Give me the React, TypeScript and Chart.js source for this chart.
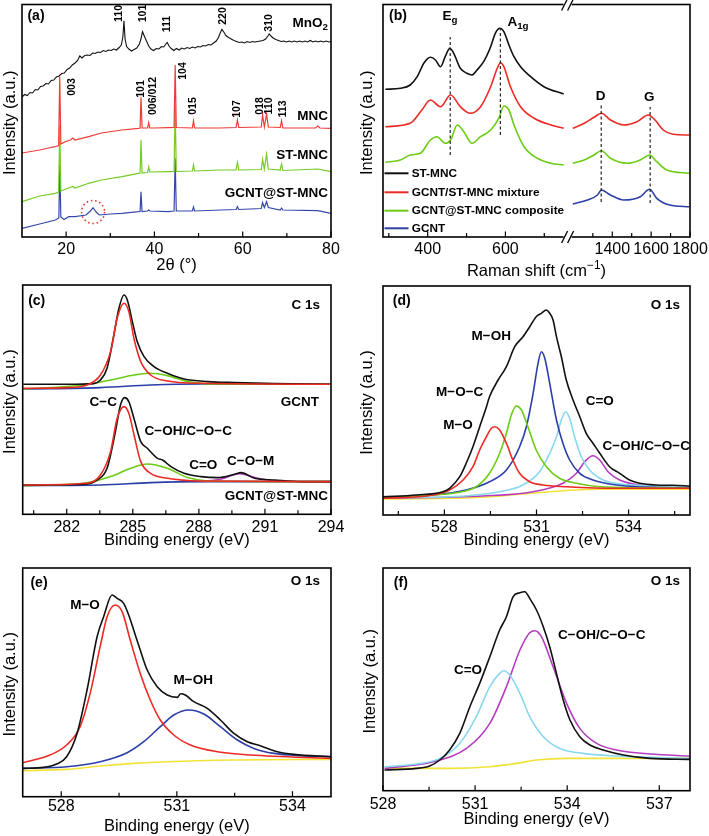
import React, { useEffect, useRef } from 'react';
import { Chart, registerables } from 'chart.js';

Chart.register(...registerables);

type Pt = [number, number];

// ================= (a) XRD : 2θ (°) vs intensity (a.u.) =================
const xrdTickValues = [20, 30, 40, 50, 60, 70, 80];
const xrdTickLabels = ['20', '', '40', '', '60', '', '80'];
const xrdMnO2: Pt[] = [
  [10, 140], [10.6, 142.5], [11.2, 141.5], [11.8, 144.5], [12.4, 144], [13, 147.5], [13.6, 147], [14.2, 150.5],
  [14.8, 151], [15.4, 153.5], [16, 153], [16.6, 156.5], [17.2, 157], [17.8, 160], [18.4, 161], [19, 163.5],
  [19.6, 164], [20.2, 167.5], [20.8, 169], [21.4, 172], [22, 174], [22.6, 176.5], [23.1, 181], [23.6, 179],
  [24.2, 181.5], [24.8, 182], [25.4, 181.5], [26, 184], [26.6, 183.5], [27.2, 185], [27.8, 184.5], [28.4, 186.5],
  [29, 185.5], [29.6, 187], [30.2, 186.5], [30.8, 188], [31.4, 187], [32, 189.5], [32.5, 192], [32.85, 200],
  [33.1, 216.3], [33.35, 198], [33.7, 190.5], [34.2, 188], [34.8, 186], [35.4, 187.5], [36, 189], [36.6, 193],
  [37.0, 199], [37.3, 205.3], [37.7, 201], [38.2, 196], [38.7, 191], [39.2, 188], [39.8, 186.5], [40.4, 188.5],
  [41, 188], [41.6, 190.5], [42.1, 190], [42.6, 193], [42.9, 194.5], [43.3, 191], [43.8, 188.5], [44.4, 186.5],
  [45, 188.5], [45.6, 187], [46.2, 189], [46.8, 188], [47.4, 189.5], [48, 188.5], [48.6, 190], [49.2, 189],
  [49.8, 190.5], [50.4, 190], [51, 191.5], [51.6, 191], [52.2, 192.5], [52.8, 192], [53.4, 194], [54, 196],
  [54.5, 199.5], [54.9, 204], [55.3, 207.7], [55.7, 205], [56.2, 201.5], [56.8, 199.5], [57.4, 198], [58, 196.5],
  [58.6, 195.5], [59.2, 194.5], [59.8, 195], [60.4, 194], [61, 195.5], [61.6, 194.5], [62.2, 195.5], [62.8, 195],
  [63.4, 195.5], [64, 196], [64.6, 196.5], [65.2, 198], [65.7, 201], [66, 203], [66.4, 201], [66.9, 199],
  [67.5, 197.5], [68.1, 196.5], [68.7, 195.5], [69.3, 196], [69.9, 195], [70.5, 196], [71.1, 195], [71.7, 196],
  [72.3, 195], [72.9, 196], [73.5, 195], [74.1, 196], [74.7, 195], [75.3, 196.5], [75.9, 195], [76.5, 196],
  [77.1, 195], [77.7, 196], [78.3, 195], [78.9, 196], [79.5, 195], [80, 195.5],
];
const xrdMNC: Pt[] = [
  [10, 84], [12, 85.5], [14, 87], [16, 89], [17.5, 90.3], [18.3, 91.5], [18.55, 160.3], [18.8, 93],
  [19.8, 95.3], [21, 97], [21.5, 99], [22, 97], [25.1, 100.3], [28, 104], [32.65, 107], [36.4, 108.7],
  [36.75, 109], [36.96, 139.7], [37.2, 109], [38.45, 109], [38.7, 114.3], [38.95, 109], [40, 109], [43.2, 109.3],
  [44.45, 109.5], [44.7, 172], [44.95, 109.5], [48.6, 109], [48.85, 116.3], [49.1, 109], [55, 109], [58.5, 109.5],
  [58.8, 117], [59.1, 109.5], [64.2, 110], [64.5, 122], [64.9, 110], [65.4, 123], [65.8, 110], [68.5, 109.5],
  [68.8, 116.3], [69.1, 109], [76.5, 109], [77, 111], [77.5, 109], [80, 108.7],
];
const xrdSTMNC: Pt[] = [
  [10, 35.3], [14, 41], [17.55, 43.7], [18.3, 45], [18.55, 112], [18.8, 46], [20, 48], [21.5, 50.5],
  [22, 49], [25.1, 53.7], [28, 57], [32.65, 60.3], [36.4, 63.7], [36.75, 64], [36.96, 97], [37.2, 64],
  [38.45, 64.5], [38.7, 70.3], [38.95, 65], [43.2, 65.3], [44.45, 65.5], [44.7, 132], [44.95, 65.5], [48.6, 66],
  [48.85, 72], [49.1, 66], [55, 67], [58.5, 67], [58.8, 74.7], [59.1, 67], [64.2, 67.5], [64.5, 77.7],
  [64.9, 68], [65.4, 82.7], [65.8, 68], [68.5, 67], [68.8, 73], [69.1, 66.5], [77, 68], [80, 65.3],
];
const xrdGCNTSTMNC: Pt[] = [
  [10, 8.7], [14, 13], [17.55, 17], [18.35, 19], [18.55, 72], [18.8, 20], [19.5, 17.5], [20.6, 20.3],
  [22, 20.3], [24.5, 22], [25.5, 26], [26.1, 29.3], [26.8, 25], [27.5, 22], [30, 23], [32.65, 23.7],
  [36.4, 25.3], [36.75, 25.5], [36.96, 45.3], [37.2, 25.5], [38.45, 26], [38.7, 27], [38.95, 26], [43.2, 25.3],
  [44.45, 26], [44.7, 78.7], [44.95, 26], [48.6, 26], [48.85, 30], [49.1, 26], [55, 27], [58.5, 27.5],
  [58.8, 30.3], [59.1, 27.5], [64.2, 28.5], [64.5, 34.3], [64.9, 29.5], [65.4, 35.3], [65.8, 29.5], [68.5, 27],
  [68.8, 29], [69.1, 27], [77, 26.3], [80, 23.7],
];

// ================= (b) Raman : shift (cm-1) vs intensity =================
const ramanTickValues = [300, 400, 500, 600, 700, 1300, 1400, 1500, 1600, 1700, 1800];
const ramanTickLabels = ['', '400', '', '600', '', '', '1400', '', '1600', '', '1800'];
const ramanSTMNC: Pt[] = [
  [291, 147.7], [330, 148.7], [355, 152], [373, 160.3], [390, 173.7], [407, 179.7], [420, 177], [433, 170.3],
  [445, 180.3], [457, 188.7], [467, 183.7], [484, 168.7], [501, 163.7], [514, 162], [527, 167], [544, 175.3],
  [562, 190.3], [574, 203.7], [586, 208.7], [596, 205.3], [609, 192], [622, 180.3], [639, 170.3], [665, 160.3],
  [699, 150.3], [750, 143],
];
const ramanMixtureLow: Pt[] = [
  [291, 110.3], [355, 113.7], [385, 127], [407, 137], [433, 130.3], [459, 142], [484, 130.3], [510, 123.7],
  [536, 130.3], [562, 150.3], [579, 168.7], [587, 174.3], [596, 170.3], [613, 150.3], [639, 130.3], [674, 118.7],
  [717, 112], [750, 108.7],
];
const ramanMixtureHigh: Pt[] = [
  [1197, 108.7], [1256, 113.7], [1306, 119.7], [1344, 123.7], [1391, 117], [1459, 112], [1527, 115.3],
  [1586, 122], [1620, 117], [1662, 107], [1713, 102.7], [1796, 102],
];
const ramanCompositeLow: Pt[] = [
  [291, 74.7], [330, 77], [355, 82], [381, 83.7], [407, 97], [424, 100.3], [445, 93.7], [459, 97],
  [476, 112], [493, 105.3], [514, 93.7], [536, 100.3], [562, 107], [583, 118.7], [596, 131], [609, 127],
  [622, 112], [648, 90.3], [682, 78.7], [717, 73.7], [750, 72],
];
const ramanCompositeHigh: Pt[] = [
  [1197, 73.7], [1256, 77], [1306, 82], [1344, 86.3], [1391, 78.7], [1476, 73.7], [1544, 77], [1592, 82],
  [1629, 75.3], [1680, 67], [1796, 63.7],
];
const ramanGCNT: Pt[] = [
  [1197, 33], [1273, 37], [1324, 42], [1344, 47], [1391, 42], [1459, 37], [1544, 40.3], [1592, 47.7],
  [1629, 38.7], [1696, 32], [1796, 30.3],
];
const ramanEgLine: Pt[] = [[458, 82], [458, 200]];
const ramanA1gLine: Pt[] = [[587, 102], [587, 209]];
const ramanDLine: Pt[] = [[1343, 35], [1343, 134]];
const ramanGLine: Pt[] = [[1595, 34], [1595, 130]];

// ================= (c) C 1s =================
const c1sTickValues = [280.5, 282, 283.5, 285, 286.5, 288, 289.5, 291, 292.5, 294];
const c1sTickLabels = ['', '282', '', '285', '', '288', '', '291', '', '294'];
const c1sGCNTRaw: Pt[] = [
  [280.03, 130], [282.01, 130], [283.23, 130.7], [283.53, 134.3], [283.83, 146], [284.14, 179.3], [284.37, 206],
  [284.6, 219.3], [284.75, 214.3], [284.98, 192.7], [285.2, 172.7], [285.51, 157.7], [285.96, 147.7],
  [286.57, 141], [287.33, 135.3], [288.4, 132.7], [289.62, 131.7], [291.44, 130.7], [294, 130],
];
const c1sGCNTCC: Pt[] = [
  [280.03, 126], [282.01, 126.7], [282.92, 129.3], [283.53, 139.3], [283.99, 162.7], [284.29, 196], [284.6, 211],
  [284.82, 202.7], [285.05, 176], [285.36, 152.7], [285.81, 139.3], [286.57, 133.3], [288.1, 131], [294, 130],
];
const c1sGCNTCOH: Pt[] = [
  [280.03, 125.3], [282.77, 129.3], [283.99, 134.3], [285.05, 139.3], [285.74, 141], [286.57, 138.7],
  [287.49, 132.7], [288.86, 130.3], [294, 130],
];
const c1sGCNTBg: Pt[] = [[280.03, 125.3], [283.53, 126.7], [285.81, 129.3], [288.1, 130.3], [294, 130]];
const c1sCompRaw: Pt[] = [
  [280.03, 29.3], [282.77, 30], [283.38, 34.3], [283.83, 46], [284.21, 82.7], [284.44, 109.3], [284.63, 116.7],
  [284.82, 112.7], [285.05, 96], [285.36, 72.7], [285.66, 66], [286.12, 56], [286.35, 54.3], [286.73, 47.7],
  [287.33, 41], [288.1, 37.7], [288.86, 36.7], [289.62, 40], [289.92, 41.7], [290.53, 36], [291.44, 34.3],
  [292.66, 32.7], [294, 32.7],
];
const c1sCompCC: Pt[] = [
  [280.03, 29.3], [282.92, 31], [283.53, 39.3], [283.99, 62.7], [284.29, 96], [284.6, 107.7], [284.82, 101],
  [285.05, 80], [285.36, 52.7], [285.81, 41], [286.57, 36], [288.1, 33.3], [294, 32.7],
];
const c1sCompCOH: Pt[] = [
  [280.03, 28.7], [282.77, 31], [283.99, 37.7], [284.9, 46], [285.66, 50.3], [286.57, 46], [287.49, 36.7],
  [288.4, 33.3], [294, 32.7],
];
const c1sCompCOM: Pt[] = [[288.1, 32.7], [289.01, 35.3], [289.85, 40.7], [290.68, 36], [291.6, 32.7]];
const c1sCompBg: Pt[] = [[280.03, 28.7], [283.53, 29.3], [285.81, 31.7], [288.1, 32.7], [294, 32.7]];

// ================= (d) O 1s (composite) =================
const o1sDTickValues = [526.5, 528, 529.5, 531, 532.5, 534, 535.5];
const o1sDTickLabels = ['', '528', '', '531', '', '534', ''];
const o1sDRaw: Pt[] = [
  [526.0, 18.3], [527.09, 20], [527.95, 23.3], [528.17, 26.7], [528.5, 38.3], [528.71, 51.7], [528.93, 68.3],
  [529.15, 88.3], [529.37, 108.3], [529.47, 118.3], [529.75, 135], [530.02, 148.3], [530.29, 168.3],
  [530.56, 178.3], [530.78, 188.3], [530.99, 198.3], [531.16, 201.7], [531.32, 205], [531.43, 201.7],
  [531.54, 195], [531.65, 178.3], [531.81, 158.3], [531.97, 135], [532.19, 115], [532.41, 98.3], [532.62, 81.7],
  [532.84, 71.7], [533.06, 61.7], [533.38, 48.3], [533.71, 41.7], [534.03, 35], [534.36, 31.7], [534.9, 30],
  [535.45, 29.7], [536.0, 29],
];
const o1sDMO: Pt[] = [
  [526.0, 16.7], [527.63, 20], [528.17, 25], [528.61, 35], [528.93, 48.3], [529.15, 65], [529.37, 78.3],
  [529.53, 86.7], [529.64, 88.3], [529.8, 85], [530.02, 71.7], [530.23, 55], [530.45, 41.7], [530.78, 33.3],
  [531.21, 30], [531.97, 28.3], [533.6, 26.7], [536.0, 26.7],
];
const o1sDMOC: Pt[] = [
  [526.0, 16.7], [527.63, 20], [528.39, 22.3], [529.04, 28.3], [529.47, 41.7], [529.8, 61.7], [530.02, 81.7],
  [530.18, 100], [530.34, 109], [530.51, 105], [530.72, 88.3], [530.99, 65], [531.32, 48.3], [531.75, 36.7],
  [532.3, 31.7], [533.06, 28.3], [536.0, 26.7],
];
const o1sDMOH: Pt[] = [
  [526.0, 17.7], [527.63, 20], [528.71, 25], [529.47, 33.3], [530.02, 45], [530.45, 68.3], [530.67, 88.3],
  [530.89, 121.7], [531.05, 151.7], [531.16, 163.3], [531.27, 156.7], [531.43, 131.7], [531.65, 95],
  [531.86, 71.7], [532.08, 55], [532.41, 41.7], [532.84, 35], [533.6, 30], [536.0, 26.7],
];
const o1sDCO: Pt[] = [
  [526.0, 17.3], [528.17, 18.3], [529.8, 23.3], [530.56, 30], [531.1, 43.3], [531.43, 61.7], [531.65, 78.3],
  [531.81, 95], [531.95, 103.3], [532.08, 96.7], [532.24, 78.3], [532.46, 58.3], [532.73, 45], [533.17, 35],
  [533.82, 30.7], [536.0, 28.3],
];
const o1sDCOH: Pt[] = [
  [526.0, 16.7], [529.26, 19], [530.89, 23.3], [531.86, 31.7], [532.3, 41.7], [532.57, 53.3], [532.84, 59.3],
  [533.06, 55], [533.33, 43.3], [533.71, 35], [534.36, 30], [536.0, 27.7],
];
const o1sDBg: Pt[] = [[526.0, 16], [529.26, 17.7], [531.43, 23.3], [533.06, 25.7], [536.0, 25.7]];

// ================= (e) O 1s =================
const o1sETickValues = [528, 529.5, 531, 532.5, 534];
const o1sETickLabels = ['528', '', '531', '', '534'];
const o1sERaw: Pt[] = [
  [527.0, 28.3], [527.54, 29.3], [527.88, 32.7], [528.14, 40], [528.41, 63.3], [528.67, 106.7], [528.93, 160],
  [529.1, 180], [529.32, 201.7], [529.45, 198.3], [529.62, 193.3], [529.75, 181.7], [529.88, 166.7],
  [530.05, 146.7], [530.23, 126.7], [530.49, 110], [530.75, 101.7], [531.01, 99.3], [531.1, 103], [531.22, 101.7],
  [531.44, 95], [531.79, 88.3], [532.13, 76.7], [532.48, 63.3], [532.83, 55], [533.18, 50.7], [533.61, 45],
  [534.04, 42.3], [535.0, 40],
];
const o1sEMO: Pt[] = [
  [527.0, 34], [527.71, 41.7], [528.14, 51.7], [528.49, 70], [528.75, 103.3], [529.01, 150], [529.19, 180],
  [529.4, 191.7], [529.58, 185], [529.79, 156.7], [530.05, 123.3], [530.31, 96.7], [530.57, 76.7],
  [530.92, 61.7], [531.35, 51.7], [532.05, 45], [532.92, 41.7], [535.0, 38.3],
];
const o1sEMOH: Pt[] = [
  [527.0, 28.3], [528.14, 30], [529.01, 35], [529.71, 44], [530.14, 55], [530.57, 70], [530.92, 81.7],
  [531.31, 86.7], [531.7, 82.7], [532.13, 70], [532.57, 56.7], [533.0, 48.3], [533.52, 43.3], [534.22, 41],
  [535.0, 40],
];
const o1sEBg: Pt[] = [[527.0, 26], [528.14, 27.3], [529.01, 30.7], [529.88, 33.3], [530.75, 35], [532.48, 36.7], [535.0, 37.3]];

// ================= (f) O 1s =================
const o1sFTickValues = [528, 529.5, 531, 532.5, 534, 535.5, 537];
const o1sFTickLabels = ['528', '', '531', '', '534', '', '537'];
const o1sFRaw: Pt[] = [
  [528.05, 20.7], [529.09, 22.3], [529.52, 24.7], [529.85, 30.7], [530.17, 40.7], [530.5, 57.3], [530.83, 84],
  [531.15, 107.3], [531.48, 134], [531.8, 160.7], [532.02, 174], [532.24, 194], [532.46, 198], [532.62, 199],
  [532.78, 192.3], [533.0, 180.7], [533.22, 164], [533.43, 144], [533.65, 117.3], [533.87, 90.7], [534.09, 70.7],
  [534.41, 54], [534.74, 45.7], [535.17, 40.7], [535.83, 35.7], [536.7, 32.3], [538.0, 31.3],
];
const o1sFCO: Pt[] = [
  [528.05, 24], [529.09, 26.7], [529.85, 32.3], [530.5, 47.3], [531.04, 74], [531.48, 104], [531.8, 117.3],
  [531.93, 120], [532.13, 115.7], [532.46, 97.3], [532.78, 74], [533.22, 54], [533.76, 42.3], [534.52, 37.3],
  [535.61, 34.7], [538.0, 32.3],
];
const o1sFCOH: Pt[] = [
  [528.05, 22.3], [529.63, 29], [530.72, 42.3], [531.48, 67.3], [532.02, 104], [532.46, 140.7], [532.78, 158],
  [532.95, 160], [533.16, 154], [533.54, 124], [533.98, 87.3], [534.41, 62.3], [534.96, 47.3], [535.61, 40.7],
  [536.7, 36.7], [538.0, 34.7],
];
const o1sFBg: Pt[] = [[528.05, 22.3], [530.17, 22.3], [531.48, 24], [532.35, 27.3], [533.0, 30.7], [533.98, 32.3], [538.0, 32.3]];

// ================= styling =================
const FONT = "'Liberation Sans', Arial, Helvetica, sans-serif";
const C = {
  black: '#111111',
  red: '#ec2a24',
  green: '#6ccc14',
  blue: '#2b3fa8',
  cyan: '#88d8ef',
  purple: '#b53dbf',
  yellow: '#f2e338',
};

type Part = [string, ('sub' | 'sup')?];
type Txt = { p: string | Part[]; x: number; y: number; s?: number; b?: boolean; a?: 'left' | 'center' | 'right'; r?: boolean };
type Series = { data: Pt[]; color: string; width: number; smooth?: boolean; dash?: number[] };
type PanelCfg = {
  left: number; top: number; width: number; height: number;
  area: [number, number, number, number];
  xMin: number; xMax: number; yMax: number;
  tx?: (v: number) => number;
  ticks: number[]; tickLabels: string[]; tickLabelY: number;
  xTitle: string | Part[]; xTitleY: number; yTitleX: number;
  texts: Txt[]; series: Series[];
  extra?: (ctx: CanvasRenderingContext2D, chart: any, cfg: PanelCfg) => void;
};

function drawParts(ctx: CanvasRenderingContext2D, p: string | Part[], x: number, y: number, size: number, bold: boolean, align: string) {
  const parts: Part[] = typeof p === 'string' ? [[p]] : p;
  const font = (k?: string) => `${bold ? 'bold ' : ''}${k ? size * 0.72 : size}px ${FONT}`;
  const ws = parts.map(([t, k]) => { ctx.font = font(k); return ctx.measureText(t).width; });
  const total = ws.reduce((a, b) => a + b, 0);
  let cx = align === 'center' ? x - total / 2 : align === 'right' ? x - total : x;
  ctx.textAlign = 'left';
  ctx.textBaseline = 'middle';
  parts.forEach(([t, k], i) => {
    ctx.font = font(k);
    const dy = k === 'sub' ? size * 0.32 : k === 'sup' ? -size * 0.3 : 0;
    ctx.fillText(t, cx, y + dy);
    cx += ws[i];
  });
}

function makeDecor(c: PanelCfg) {
  return {
    id: 'decor',
    afterDatasetsDraw(chart: any) {
      const ctx: CanvasRenderingContext2D = chart.ctx;
      const { left, top, right, bottom } = chart.chartArea;
      const xs = chart.scales.x;
      const ox = c.left, oy = c.top;
      const tx = (v: number) => xs.getPixelForValue(c.tx ? c.tx(v) : v);
      ctx.save();
      ctx.strokeStyle = '#000';
      ctx.fillStyle = '#000';
      ctx.lineWidth = 1.6;
      ctx.strokeRect(left, top, right - left, bottom - top);
      ctx.lineWidth = 1.2;
      c.ticks.forEach((v, i) => {
        const px = tx(v);
        const major = c.tickLabels[i] !== '';
        ctx.beginPath();
        ctx.moveTo(px, bottom);
        ctx.lineTo(px, bottom - (major ? 5.5 : 4));
        ctx.stroke();
      });
      c.ticks.forEach((v, i) => {
        if (c.tickLabels[i]) drawParts(ctx, c.tickLabels[i], tx(v), c.tickLabelY - oy, 16, false, 'center');
      });
      drawParts(ctx, c.xTitle, (left + right) / 2, c.xTitleY - oy, 16.5, false, 'center');
      ctx.save();
      ctx.translate(c.yTitleX - ox, (top + bottom) / 2 + 2);
      ctx.rotate(-Math.PI / 2);
      drawParts(ctx, 'Intensity (a.u.)', 0, 0, 16.5, false, 'center');
      ctx.restore();
      c.texts.forEach((t) => {
        const size = t.s ?? 13.5;
        const bold = t.b ?? true;
        const align = t.a ?? 'center';
        if (t.r) {
          ctx.save();
          ctx.translate(t.x - ox, t.y - oy);
          ctx.rotate(-Math.PI / 2);
          drawParts(ctx, t.p, 0, 0, size, bold, 'center');
          ctx.restore();
        } else {
          drawParts(ctx, t.p, t.x - ox, t.y - oy, size, bold, align);
        }
      });
      if (c.extra) c.extra(ctx, chart, c);
      ctx.restore();
    },
  };
}

const ramanDisp = (x: number) => (x <= 760 ? x : 750 + (x - 1150) / 2);

const rot = (p: string, x: number, y: number): Txt => ({ p, x, y, s: 10.5, r: true });

const panelA: PanelCfg = {
  left: 0, top: 0, width: 354, height: 282, area: [22, 4.5, 331, 237],
  xMin: 10, xMax: 80, yMax: 232.5,
  ticks: xrdTickValues, tickLabels: xrdTickLabels, tickLabelY: 249.5,
  xTitle: '2θ (°)', xTitleY: 265, yTitleX: 10,
  texts: [
    { p: '(a)', x: 36, y: 16, s: 14 },
    { p: [['MnO'], ['2', 'sub']], x: 328, y: 23, a: 'right' },
    { p: 'MNC', x: 328, y: 116, a: 'right' },
    { p: 'ST-MNC', x: 328, y: 155, a: 'right' },
    { p: 'GCNT@ST-MNC', x: 328, y: 193, a: 'right' },
    rot('110', 119, 13.5), rot('101', 143, 13.5), rot('111', 167, 24), rot('220', 223, 16), rot('310', 269, 23),
    rot('003', 72, 87), rot('101', 141.3, 89), rot('006/012', 152.7, 96), rot('104', 183, 71), rot('015', 193, 106),
    rot('107', 237.3, 109), rot('018', 259.8, 106), rot('110', 269.6, 106), rot('113', 283, 109),
  ],
  series: [
    { data: xrdMnO2, color: C.black, width: 1.1 },
    { data: xrdMNC, color: '#ee3b33', width: 1.2 },
    { data: xrdSTMNC, color: '#74cc22', width: 1.2 },
    { data: xrdGCNTSTMNC, color: '#3548aa', width: 1.2 },
  ],
  extra: (ctx, chart) => {
    const cx = chart.scales.x.getPixelForValue(26.1);
    const cy = chart.scales.y.getPixelForValue(25);
    ctx.save();
    ctx.strokeStyle = '#e8322c';
    ctx.lineWidth = 1.6;
    ctx.setLineDash([1.5, 2.8]);
    ctx.beginPath();
    ctx.arc(cx, cy, 11.5, 0, Math.PI * 2);
    ctx.stroke();
    ctx.restore();
  },
};

const panelB: PanelCfg = {
  left: 354, top: 0, width: 355, height: 282, area: [383, 4.5, 690, 237],
  xMin: 285, xMax: 1075, yMax: 232.5, tx: ramanDisp,
  ticks: ramanTickValues, tickLabels: ramanTickLabels, tickLabelY: 249.5,
  xTitle: [['Raman shift (cm'], ['−1', 'sup'], [')']], xTitleY: 271, yTitleX: 367,
  texts: [
    { p: '(b)', x: 398, y: 16, s: 14 },
    { p: [['E'], ['g', 'sub']], x: 450, y: 16 },
    { p: [['A'], ['1g', 'sub']], x: 518, y: 22 },
    { p: 'D', x: 600.7, y: 96 },
    { p: 'G', x: 649.3, y: 97 },
  ],
  series: [
    { data: ramanEgLine, color: '#222', width: 1.2, dash: [3, 2.5] },
    { data: ramanA1gLine, color: '#222', width: 1.2, dash: [3, 2.5] },
    { data: ramanDLine, color: '#222', width: 1.2, dash: [3, 2.5] },
    { data: ramanGLine, color: '#222', width: 1.2, dash: [3, 2.5] },
    { data: ramanSTMNC, color: C.black, width: 1.6, smooth: true },
    { data: ramanMixtureLow, color: C.red, width: 1.6, smooth: true },
    { data: ramanMixtureHigh, color: C.red, width: 1.6, smooth: true },
    { data: ramanCompositeLow, color: C.green, width: 1.6, smooth: true },
    { data: ramanCompositeHigh, color: C.green, width: 1.6, smooth: true },
    { data: ramanGCNT, color: C.blue, width: 1.6, smooth: true },
  ],
  extra: (ctx, chart, c) => {
    const px = chart.scales.x.getPixelForValue(760);
    const { top, bottom } = chart.chartArea;
    [top, bottom].forEach((yy: number) => {
      ctx.fillStyle = '#fff';
      ctx.fillRect(px - 4, yy - 2, 8, 4);
      ctx.strokeStyle = '#000';
      ctx.lineWidth = 1.3;
      [-3, 3].forEach((d) => {
        ctx.beginPath();
        ctx.moveTo(px + d - 3, yy + 6);
        ctx.lineTo(px + d + 3, yy - 6);
        ctx.stroke();
      });
    });
    const legend: [string, string, number][] = [
      ['ST-MNC', C.black, 173.3],
      ['GCNT/ST-MNC mixture', C.red, 192.3],
      ['GCNT@ST-MNC composite', C.green, 210.7],
      ['GCNT', C.blue, 228.3],
    ];
    ctx.fillStyle = '#000';
    legend.forEach(([label, color, y]) => {
      ctx.strokeStyle = color;
      ctx.lineWidth = 2;
      ctx.beginPath();
      ctx.moveTo(384.5 - c.left, y - c.top);
      ctx.lineTo(408.5 - c.left, y - c.top);
      ctx.stroke();
      ctx.fillStyle = '#000';
      drawParts(ctx, label, 411.7 - c.left, y - c.top, 11.8, true, 'left');
    });
  },
};

const panelC: PanelCfg = {
  left: 0, top: 282, width: 354, height: 272, area: [22.7, 285, 331, 514.3],
  xMin: 280, xMax: 294, yMax: 229.3,
  ticks: c1sTickValues, tickLabels: c1sTickLabels, tickLabelY: 527.5,
  xTitle: 'Binding energy (eV)', xTitleY: 540.5, yTitleX: 10,
  texts: [
    { p: '(c)', x: 36.7, y: 301, s: 14 },
    { p: 'C 1s', x: 320, y: 305, a: 'right' },
    { p: 'GCNT', x: 319, y: 402, a: 'right' },
    { p: 'C−C', x: 103.3, y: 402.3 },
    { p: 'C−OH/C−O−C', x: 188.3, y: 431.7 },
    { p: 'C=O', x: 203.3, y: 465 },
    { p: 'C−O−M', x: 250.7, y: 461 },
    { p: 'GCNT@ST-MNC', x: 328, y: 496.7, a: 'right' },
  ],
  series: [
    { data: c1sGCNTCC, color: C.red, width: 1.6, smooth: true },
    { data: c1sGCNTRaw, color: C.black, width: 1.6, smooth: true },
    { data: c1sGCNTCOH, color: C.green, width: 1.6, smooth: true },
    { data: c1sGCNTBg, color: C.blue, width: 1.6, smooth: true },
    { data: c1sCompCC, color: C.red, width: 1.6, smooth: true },
    { data: c1sCompRaw, color: C.black, width: 1.6, smooth: true },
    { data: c1sCompCOH, color: C.green, width: 1.6, smooth: true },
    { data: c1sCompCOM, color: C.purple, width: 1.6, smooth: true },
    { data: c1sCompBg, color: C.blue, width: 1.6, smooth: true },
  ],
};

const panelD: PanelCfg = {
  left: 354, top: 282, width: 355, height: 272, area: [383, 286, 690, 515],
  xMin: 526, xMax: 536, yMax: 229,
  ticks: o1sDTickValues, tickLabels: o1sDTickLabels, tickLabelY: 527.5,
  xTitle: 'Binding energy (eV)', xTitleY: 540, yTitleX: 367,
  texts: [
    { p: '(d)', x: 401.7, y: 301, s: 14 },
    { p: 'O 1s', x: 680, y: 305, a: 'right' },
    { p: 'M−OH', x: 491.3, y: 336.7 },
    { p: 'M−O−C', x: 459.7, y: 392.7 },
    { p: 'M−O', x: 458, y: 425 },
    { p: 'C=O', x: 599.7, y: 401.7 },
    { p: 'C−OH/C−O−C', x: 646.3, y: 446.7 },
  ],
  series: [
    { data: o1sDRaw, color: C.black, width: 1.6, smooth: true },
    { data: o1sDMO, color: C.red, width: 1.6, smooth: true },
    { data: o1sDMOC, color: C.green, width: 1.6, smooth: true },
    { data: o1sDMOH, color: C.blue, width: 1.6, smooth: true },
    { data: o1sDCO, color: C.cyan, width: 1.6, smooth: true },
    { data: o1sDCOH, color: C.purple, width: 1.6, smooth: true },
    { data: o1sDBg, color: C.yellow, width: 1.6, smooth: true },
  ],
};

const panelE: PanelCfg = {
  left: 0, top: 554, width: 354, height: 282, area: [22.7, 568, 331, 796.7],
  xMin: 527, xMax: 535, yMax: 228.7,
  ticks: o1sETickValues, tickLabels: o1sETickLabels, tickLabelY: 806.5,
  xTitle: 'Binding energy (eV)', xTitleY: 826, yTitleX: 10,
  texts: [
    { p: '(e)', x: 39, y: 583, s: 14 },
    { p: 'O 1s', x: 320, y: 581, a: 'right' },
    { p: 'M−O', x: 85, y: 605.7 },
    { p: 'M−OH', x: 193.3, y: 680 },
  ],
  series: [
    { data: o1sERaw, color: C.black, width: 1.6, smooth: true },
    { data: o1sEMO, color: C.red, width: 1.6, smooth: true },
    { data: o1sEMOH, color: C.blue, width: 1.6, smooth: true },
    { data: o1sEBg, color: C.yellow, width: 1.6, smooth: true },
  ],
};

const panelF: PanelCfg = {
  left: 354, top: 554, width: 355, height: 282, area: [383, 568, 690, 790.7],
  xMin: 528, xMax: 538, yMax: 222.7,
  ticks: o1sFTickValues, tickLabels: o1sFTickLabels, tickLabelY: 805,
  xTitle: 'Binding energy (eV)', xTitleY: 819, yTitleX: 370,
  texts: [
    { p: '(f)', x: 400.8, y: 583, s: 14 },
    { p: 'O 1s', x: 680, y: 581, a: 'right' },
    { p: 'C−OH/C−O−C', x: 601.7, y: 635 },
    { p: 'C=O', x: 468, y: 670 },
  ],
  series: [
    { data: o1sFRaw, color: C.black, width: 1.6, smooth: true },
    { data: o1sFCO, color: C.cyan, width: 1.6, smooth: true },
    { data: o1sFCOH, color: C.purple, width: 1.6, smooth: true },
    { data: o1sFBg, color: C.yellow, width: 1.6, smooth: true },
  ],
};

function PanelChart({ cfg }: { cfg: PanelCfg }) {
  const ref = useRef<HTMLCanvasElement | null>(null);
  useEffect(() => {
    const c = cfg;
    const [l, t, r, b] = c.area;
    const chart = new Chart(ref.current as HTMLCanvasElement, {
      type: 'scatter',
      data: {
        datasets: c.series.map((s) => ({
          data: s.data.map(([x, y]) => ({ x: c.tx ? c.tx(x) : x, y })),
          borderColor: s.color,
          backgroundColor: s.color,
          borderWidth: s.width,
          borderDash: s.dash || [],
          showLine: true,
          pointRadius: 0,
          pointHoverRadius: 0,
          tension: 0,
          cubicInterpolationMode: s.smooth ? 'monotone' : 'default',
          fill: false,
        })),
      } as any,
      options: {
        animation: false,
        responsive: false,
        maintainAspectRatio: false,
        events: [],
        layout: { padding: { left: l - c.left, top: t - c.top, right: c.left + c.width - r, bottom: c.top + c.height - b } },
        plugins: { legend: { display: false }, tooltip: { enabled: false }, title: { display: false } },
        scales: {
          x: { type: 'linear', display: false, min: c.xMin, max: c.xMax },
          y: { type: 'linear', display: false, min: 0, max: c.yMax },
        },
      } as any,
      plugins: [makeDecor(c)] as any,
    });
    return () => chart.destroy();
  }, [cfg]);
  return (
    <canvas
      ref={ref}
      width={cfg.width}
      height={cfg.height}
      style={{ position: 'absolute', left: cfg.left, top: cfg.top, width: cfg.width, height: cfg.height }}
    />
  );
}

export default function App() {
  const panels = [panelA, panelB, panelC, panelD, panelE, panelF];
  return (
    <div style={{ position: 'absolute', left: 0, top: 0, width: 709, height: 836, background: '#fff', overflow: 'hidden' }}>
      {panels.map((p, i) => (
        <PanelChart key={i} cfg={p} />
      ))}
    </div>
  );
}
